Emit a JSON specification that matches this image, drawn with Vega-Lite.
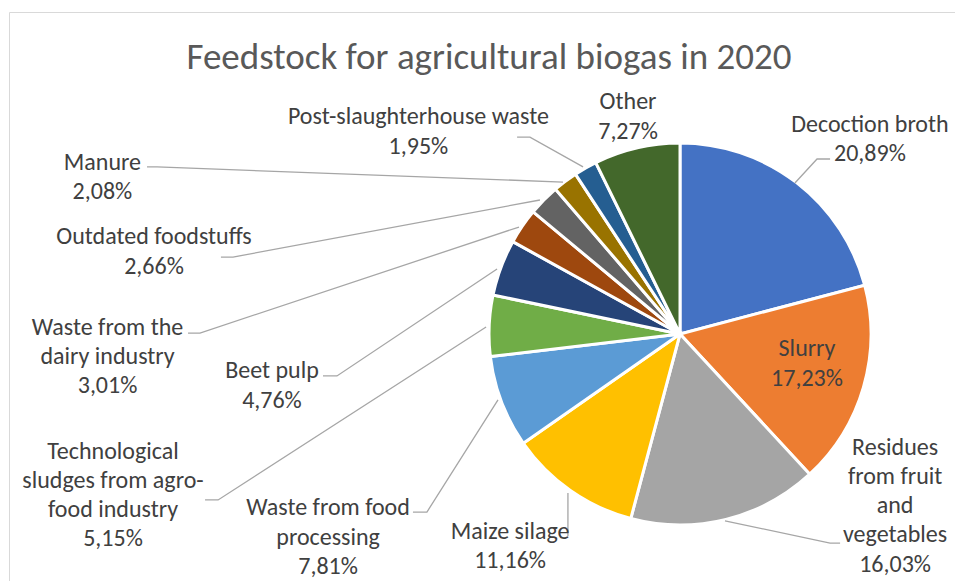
{
  "$schema": "https://vega.github.io/schema/vega-lite/v6.json",
  "autosize": {"type": "none"},
  "width": 946,
  "height": 569,
  "padding": {"left": 9, "top": 12, "right": 0, "bottom": 0},
  "background": "white",
  "title": {
    "text": "Feedstock for agricultural biogas in 2020",
    "frame": "group",
    "anchor": "middle",
    "orient": "top",
    "offset": -83,
    "dx": 7,
    "baseline": "middle",
    "font": "Carlito, Calibri, Lato, sans-serif",
    "fontSize": 37,
    "fontWeight": 300,
    "color": "#595959"
  },
  "datasets": {
    "slices": [
      {"rank": 1, "category": "Decoction broth", "label": "Decoction broth", "share": 20.89, "lx": 1.005, "ly": 1.108},
      {"rank": 2, "category": "Slurry", "label": "Slurry", "share": 17.23, "lx": 0.672, "ly": -0.082},
      {"rank": 3, "category": "Residues from fruit and vegetables", "label": "Residues\nfrom fruit\nand\nvegetables", "share": 16.03, "lx": 1.138, "ly": -0.601},
      {"rank": 4, "category": "Maize silage", "label": "Maize silage", "share": 11.16, "lx": -0.899, "ly": -1.045},
      {"rank": 5, "category": "Waste from food processing", "label": "Waste from food\nprocessing", "share": 7.81, "lx": -1.862, "ly": -0.923},
      {"rank": 6, "category": "Technological sludges from agro-food industry", "label": "Technological\nsludges from agro-\nfood industry", "share": 5.15, "lx": -3.000, "ly": -0.622},
      {"rank": 7, "category": "Beet pulp", "label": "Beet pulp", "share": 4.76, "lx": -2.159, "ly": -0.198},
      {"rank": 8, "category": "Waste from the dairy industry", "label": "Waste from the\ndairy industry", "share": 3.01, "lx": -3.029, "ly": 0.034},
      {"rank": 9, "category": "Outdated foodstuffs", "label": "Outdated foodstuffs", "share": 2.66, "lx": -2.783, "ly": 0.511},
      {"rank": 10, "category": "Manure", "label": "Manure", "share": 2.08, "lx": -3.056, "ly": 0.907},
      {"rank": 11, "category": "Post-slaughterhouse waste", "label": "Post-slaughterhouse waste", "share": 1.95, "lx": -1.384, "ly": 1.146},
      {"rank": 12, "category": "Other", "label": "Other", "share": 7.27, "lx": -0.275, "ly": 1.225}
    ],
    "leaders": [
      {"category": "Decoction broth", "step": 1, "lx": 0.608, "ly": 0.799},
      {"category": "Decoction broth", "step": 2, "lx": 0.725, "ly": 0.926},
      {"category": "Decoction broth", "step": 3, "lx": 0.794, "ly": 0.926},
      {"category": "Residues from fruit and vegetables", "step": 1, "lx": 0.238, "ly": -0.989},
      {"category": "Residues from fruit and vegetables", "step": 2, "lx": 0.794, "ly": -1.106},
      {"category": "Residues from fruit and vegetables", "step": 3, "lx": 0.847, "ly": -1.106},
      {"category": "Maize silage", "step": 1, "lx": -0.593, "ly": -0.841},
      {"category": "Maize silage", "step": 2, "lx": -0.593, "ly": -1.069},
      {"category": "Waste from food processing", "step": 1, "lx": -1.413, "ly": -0.942},
      {"category": "Waste from food processing", "step": 2, "lx": -1.339, "ly": -0.942},
      {"category": "Waste from food processing", "step": 3, "lx": -0.963, "ly": -0.349},
      {"category": "Technological sludges from agro-food industry", "step": 1, "lx": -2.513, "ly": -0.878},
      {"category": "Technological sludges from agro-food industry", "step": 2, "lx": -2.444, "ly": -0.878},
      {"category": "Technological sludges from agro-food industry", "step": 3, "lx": -1.026, "ly": 0.037},
      {"category": "Beet pulp", "step": 1, "lx": -1.889, "ly": -0.222},
      {"category": "Beet pulp", "step": 2, "lx": -1.815, "ly": -0.222},
      {"category": "Beet pulp", "step": 3, "lx": -0.968, "ly": 0.344},
      {"category": "Waste from the dairy industry", "step": 1, "lx": -2.603, "ly": 0.005},
      {"category": "Waste from the dairy industry", "step": 2, "lx": -2.540, "ly": 0.005},
      {"category": "Waste from the dairy industry", "step": 3, "lx": -0.852, "ly": 0.566},
      {"category": "Outdated foodstuffs", "step": 1, "lx": -2.429, "ly": 0.407},
      {"category": "Outdated foodstuffs", "step": 2, "lx": -2.365, "ly": 0.407},
      {"category": "Outdated foodstuffs", "step": 3, "lx": -0.741, "ly": 0.709},
      {"category": "Manure", "step": 1, "lx": -2.820, "ly": 0.884},
      {"category": "Manure", "step": 2, "lx": -2.767, "ly": 0.884},
      {"category": "Manure", "step": 3, "lx": -0.619, "ly": 0.804},
      {"category": "Post-slaughterhouse waste", "step": 1, "lx": -0.862, "ly": 1.042},
      {"category": "Post-slaughterhouse waste", "step": 2, "lx": -0.794, "ly": 1.042},
      {"category": "Post-slaughterhouse waste", "step": 3, "lx": -0.513, "ly": 0.884}
    ]
  },
  "layer": [
    {
      "data": {"name": "slices"},
      "mark": {"type": "arc", "outerRadius": 191, "stroke": "white", "strokeWidth": 3},
      "encoding": {
        "x": {"datum": 0, "type": "quantitative", "scale": {"domain": [-3.5503, 1.4550], "nice": false, "zero": false}, "axis": {"orient": "top"}},
        "y": {"datum": 0, "type": "quantitative", "scale": {"domain": [-1.3069, 1.7037], "nice": false, "zero": false}, "axis": {"orient": "left"}},
        "theta": {"field": "share", "type": "quantitative", "stack": true},
        "order": {"field": "rank", "type": "quantitative"},
        "color": {
          "field": "category",
          "type": "nominal",
          "legend": null,
          "scale": {
            "domain": ["Decoction broth", "Slurry", "Residues from fruit and vegetables", "Maize silage", "Waste from food processing", "Technological sludges from agro-food industry", "Beet pulp", "Waste from the dairy industry", "Outdated foodstuffs", "Manure", "Post-slaughterhouse waste", "Other"],
            "range": ["#4472C4", "#ED7D31", "#A5A5A5", "#FFC000", "#5B9BD5", "#70AD47", "#264478", "#9E480E", "#636363", "#997300", "#255E91", "#43682B"]
          }
        }
      }
    },
    {
      "data": {"name": "leaders"},
      "mark": {"type": "line", "color": "#a6a6a6", "strokeWidth": 1.3},
      "encoding": {
        "x": {"field": "lx", "type": "quantitative", "scale": {"domain": [-3.5503, 1.4550], "nice": false, "zero": false}, "axis": {"orient": "top"}},
        "y": {"field": "ly", "type": "quantitative", "scale": {"domain": [-1.3069, 1.7037], "nice": false, "zero": false}, "axis": {"orient": "left"}},
        "detail": {"field": "category", "type": "nominal"},
        "order": {"field": "step", "type": "quantitative"}
      }
    },
    {
      "data": {"name": "slices"},
      "transform": [
        {"calculate": "datum.label + '\\n' + replace(format(datum.share, '.2f'), '.', ',') + '%'", "as": "text"}
      ],
      "mark": {
        "type": "text",
        "lineBreak": "\n",
        "lineHeight": 29.3,
        "align": "center",
        "baseline": "middle",
        "font": "Carlito, Calibri, Lato, sans-serif",
        "fontSize": 24,
        "color": "#404040"
      },
      "encoding": {
        "x": {"field": "lx", "type": "quantitative", "scale": {"domain": [-3.5503, 1.4550], "nice": false, "zero": false}, "axis": {"orient": "top"}},
        "y": {"field": "ly", "type": "quantitative", "scale": {"domain": [-1.3069, 1.7037], "nice": false, "zero": false}, "axis": {"orient": "left"}},
        "text": {"field": "text", "type": "nominal"}
      }
    }
  ],
  "config": {
    "view": {"stroke": null},
    "axis": {
      "domainColor": "#d9d9d9",
      "domainWidth": 1,
      "labels": false,
      "ticks": false,
      "grid": false,
      "title": null
    }
  }
}
